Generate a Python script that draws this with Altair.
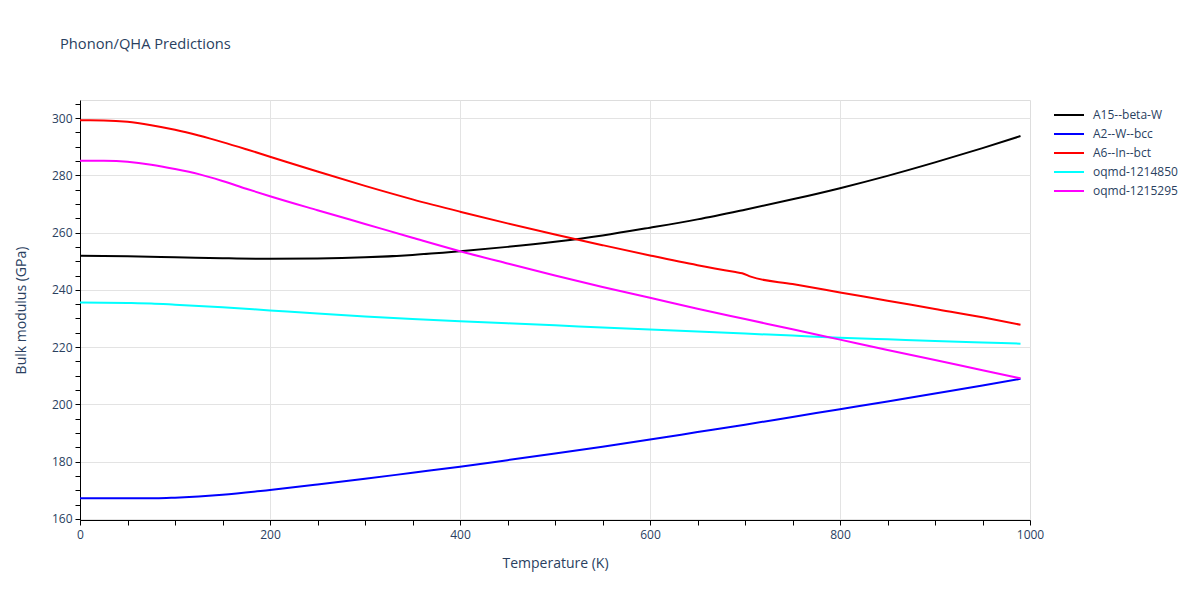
import altair as alt
import pandas as pd

series_names = ["A15--beta-W", "A2--W--bcc", "A6--In--bct", "oqmd-1214850", "oqmd-1215295"]
series_colors = ["#000000", "#0000ff", "#ff0000", "#00ffff", "#ff00ff"]

t_a15 = [0, 50, 100, 150, 200, 250, 300, 350, 400, 450, 500, 550, 600, 650, 700, 750, 800, 850, 900, 950, 990]
b_a15 = [251.9, 251.7, 251.4, 251.05, 250.85, 250.95, 251.35, 252.2, 253.5, 255.0, 256.8, 259.0, 261.7, 264.6, 268.0, 271.6, 275.5, 279.8, 284.5, 289.5, 293.7]

t_a2 = [0, 50, 80, 100, 150, 200, 250, 300, 350, 400, 450, 500, 550, 600, 650, 700, 750, 800, 850, 900, 950, 990]
b_a2 = [167.2, 167.2, 167.2, 167.4, 168.4, 170.1, 172.0, 174.0, 176.1, 178.2, 180.5, 182.8, 185.2, 187.7, 190.3, 192.9, 195.6, 198.3, 201.0, 203.8, 206.6, 208.9]

t_a6 = [0, 25, 50, 75, 100, 125, 150, 175, 200, 250, 300, 350, 400, 450, 500, 550, 600, 650, 690, 697, 706, 750, 800, 850, 900, 950, 990]
b_a6 = [299.2, 299.15, 298.7, 297.5, 295.9, 293.9, 291.6, 289.1, 286.5, 281.3, 276.3, 271.6, 267.3, 263.2, 259.3, 255.6, 252.0, 248.6, 246.2, 245.8, 244.6, 242.0, 239.1, 236.2, 233.3, 230.4, 227.8]

t_o1 = [0, 50, 75, 100, 150, 200, 250, 300, 350, 400, 450, 500, 550, 600, 650, 700, 750, 800, 850, 900, 950, 990]
b_o1 = [235.6, 235.4, 235.2, 234.8, 233.9, 232.8, 231.7, 230.7, 229.8, 229.0, 228.3, 227.6, 226.8, 226.1, 225.4, 224.7, 224.0, 223.3, 222.7, 222.1, 221.6, 221.2]

t_o2 = [0, 25, 50, 75, 100, 125, 150, 175, 200, 250, 300, 350, 400, 450, 500, 550, 600, 650, 700, 750, 800, 850, 900, 950, 990]
b_o2 = [285.1, 285.05, 284.7, 283.7, 282.2, 280.4, 278.0, 275.3, 272.7, 267.8, 263.0, 258.2, 253.5, 249.2, 245.0, 241.0, 237.2, 233.4, 229.8, 226.2, 222.6, 219.0, 215.5, 211.9, 209.1]

x_ticks = list(range(0, 1001, 50))
y_ticks = list(range(160, 306, 5))

rows = []
for name, ts, bs in zip(series_names, [t_a15, t_a2, t_a6, t_o1, t_o2], [b_a15, b_a2, b_a6, b_o1, b_o2]):
    for t, b in zip(ts, bs):
        rows.append({"series": name, "T": t, "B": b})
df = pd.DataFrame(rows)

font = "Open Sans"
txt = "#2a3f5f"

chart = alt.Chart(df).mark_line(strokeWidth=2, interpolate="monotone").encode(
    x=alt.X("T:Q", scale=alt.Scale(domain=[0, 1000], nice=False, zero=False),
            axis=alt.Axis(title="Temperature (K)", values=x_ticks, format="d",
                          labelExpr="datum.value % 200 === 0 ? datum.label : ''",
                          gridOpacity=alt.condition("datum.value % 200 === 0 && datum.value < 1000", alt.value(1), alt.value(0)),
                          gridColor="#e3e3e3", gridWidth=1,
                          domainColor="#000000", tickColor="#000000", tickSize=5,
                          labelFont=font, labelFontSize=12, labelColor=txt, labelPadding=4,
                          titleFont=font, titleFontSize=14, titleColor=txt, titleFontWeight="normal",
                          titlePadding=16, labelFlush=False, labelOverlap=False)),
    y=alt.Y("B:Q", scale=alt.Scale(domain=[159.6, 306.3], nice=False, zero=False),
            axis=alt.Axis(title="Bulk modulus (GPa)", values=y_ticks, format="d",
                          labelExpr="datum.value % 20 === 0 ? datum.label : ''",
                          gridOpacity=alt.condition("datum.value % 20 === 0", alt.value(1), alt.value(0)),
                          gridColor="#e3e3e3", gridWidth=1,
                          domainColor="#000000", tickColor="#000000", tickSize=5,
                          labelFont=font, labelFontSize=12, labelColor=txt, labelPadding=3,
                          titleFont=font, titleFontSize=14, titleColor=txt, titleFontWeight="normal",
                          titlePadding=23, labelFlush=False, labelOverlap=False)),
    color=alt.Color("series:N", scale=alt.Scale(domain=series_names, range=series_colors),
                    legend=alt.Legend(title=None, orient="none", legendX=973, legendY=7,
                                      symbolType="stroke", symbolSize=900, symbolStrokeWidth=2,
                                      clipHeight=16, rowPadding=3,
                                      labelFont=font, labelFontSize=12, labelColor=txt,
                                      labelOffset=8)),
).properties(
    width=950, height=420,
    title=alt.TitleParams("Phonon/QHA Predictions", anchor="start", frame="group", dx=-20,
                          offset=46, font=font, fontSize=14.7, color=txt, fontWeight="normal"),
    autosize=alt.AutoSizeParams(type="none"),
    padding={"left": 72, "top": 92, "right": 150, "bottom": 60},
).configure_view(strokeOpacity=0).configure(background="white")

chart.save("out.html", embed_options={"renderer": "svg", "actions": False})
